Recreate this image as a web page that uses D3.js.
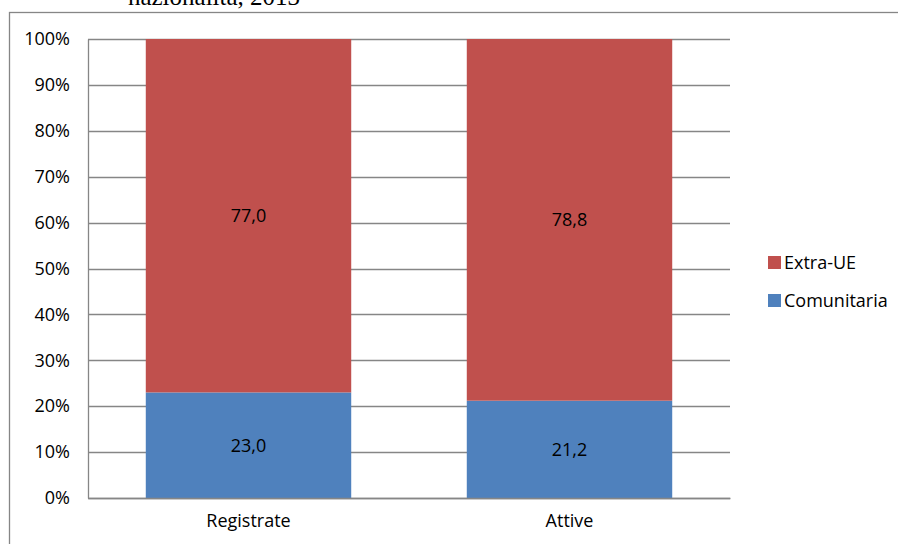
<!DOCTYPE html>
<html lang="it">
<head>
<meta charset="utf-8">
<title>Imprese per nazionalità</title>
<script src="https://cdnjs.cloudflare.com/ajax/libs/d3/7.8.5/d3.min.js"></script>
<style>
  body { margin: 0; background: #fff; }
  text { font-family: "Open Sans", sans-serif; }
</style>
</head>
<body>
<div id="chart"></div>
<script>
// data
var categories = ["Registrate", "Attive"];
var comunitaria = [23.0, 21.2];
var extraUE = [77.0, 78.8];
var seriesNames = ["Comunitaria", "Extra-UE"];
var seriesColors = ["#4f81bd", "#c0504d"];
var yTicks = [0, 10, 20, 30, 40, 50, 60, 70, 80, 90, 100];

var W = 898, H = 544;
var margin = { top: 39, left: 88, right: 168, bottom: 46 };
var width = W - margin.left - margin.right;
var height = H - margin.top - margin.bottom;
var fontSize = "18px";

var svg = d3.select("#chart").append("svg")
    .attr("width", W)
    .attr("height", H);

// title of the document above, cut off as in the source
svg.append("text")
    .attr("x", 214)
    .attr("y", 5)
    .attr("text-anchor", "middle")
    .style("font-family", "'Liberation Serif', serif")
    .style("font-size", "25px")
    .attr("fill", "#000")
    .text("nazionalità, 2013");

// chart frame
svg.append("rect")
    .attr("x", 9.5)
    .attr("y", 12.5)
    .attr("width", W + 10)
    .attr("height", H)
    .attr("fill", "#fff")
    .attr("stroke", "#868686")
    .attr("stroke-width", 1.3);

var g = svg.append("g")
    .attr("transform", "translate(" + margin.left + "," + margin.top + ")");

var x = d3.scaleBand().domain(categories).range([0, width]).paddingInner(0.36).paddingOuter(0.18);
var y = d3.scaleLinear().domain([0, 100]).range([height, 0]);

// gridlines
g.selectAll(".grid")
    .data(yTicks)
    .enter().append("line")
    .attr("x1", 0)
    .attr("x2", width)
    .attr("y1", function (d) { return Math.round(y(d)) + 0.5; })
    .attr("y2", function (d) { return Math.round(y(d)) + 0.5; })
    .attr("stroke", "#868686")
    .attr("stroke-width", 1.3);

// stacked data
var rows = categories.map(function (c, i) {
    return { cat: c, Comunitaria: comunitaria[i], "Extra-UE": extraUE[i] };
});
var stack = d3.stack().keys(seriesNames)(rows);

var layers = g.selectAll(".layer")
    .data(stack)
    .enter().append("g")
    .attr("fill", function (d, i) { return seriesColors[i]; });

layers.selectAll("rect")
    .data(function (d) { return d; })
    .enter().append("rect")
    .attr("x", function (d) { return x(d.data.cat); })
    .attr("width", x.bandwidth())
    .attr("y", function (d) { return y(d[1]); })
    .attr("height", function (d) { return y(d[0]) - y(d[1]); });

layers.selectAll(".lbl")
    .data(function (d) { return d; })
    .enter().append("text")
    .attr("x", function (d) { return x(d.data.cat) + x.bandwidth() / 2; })
    .attr("y", function (d) { return y((d[0] + d[1]) / 2); })
    .attr("dy", "0.35em")
    .attr("text-anchor", "middle")
    .attr("fill", "#000")
    .style("font-size", fontSize)
    .text(function (d) { return (d[1] - d[0]).toFixed(1).replace(".", ","); });

// axes
var yAxis = g.append("g")
    .call(d3.axisLeft(y).tickValues(yTicks).tickSize(0).tickPadding(18)
        .tickFormat(function (d) { return d + "%"; }));
yAxis.select(".domain").attr("stroke", "#868686").attr("stroke-width", 1.3);
yAxis.selectAll("text").style("font-size", fontSize).style("font-family", "'Open Sans', sans-serif").attr("fill", "#000");

var xAxis = g.append("g")
    .attr("transform", "translate(0," + height + ")")
    .call(d3.axisBottom(x).tickSize(0).tickPadding(16));
xAxis.select(".domain").attr("stroke", "#868686").attr("stroke-width", 1.3);
xAxis.selectAll("text").style("font-size", fontSize).style("font-family", "'Open Sans', sans-serif").attr("fill", "#000");

// legend
var legend = svg.append("g").attr("transform", "translate(768,254)");
var legendItems = [1, 0];
legend.selectAll("rect")
    .data(legendItems)
    .enter().append("rect")
    .attr("x", 0)
    .attr("y", function (d, i) { return i * 38 + 2; })
    .attr("width", 13)
    .attr("height", 13)
    .attr("fill", function (d) { return seriesColors[d]; });
legend.selectAll("text")
    .data(legendItems)
    .enter().append("text")
    .attr("x", 16)
    .attr("y", function (d, i) { return i * 38 + 9; })
    .attr("dy", "0.35em")
    .style("font-size", fontSize)
    .attr("fill", "#000")
    .text(function (d) { return seriesNames[d]; });
</script>
</body>
</html>
